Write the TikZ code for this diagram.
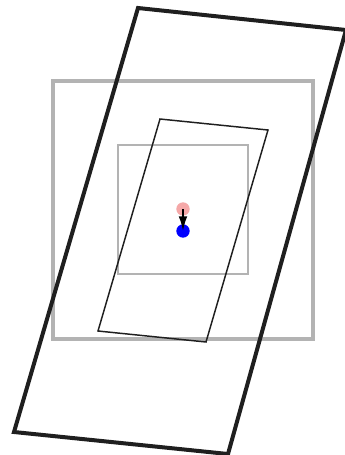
\documentclass[tikz,border=0pt]{standalone}
\usepackage{tikz}
\usetikzlibrary{arrows.meta}
\definecolor{framegray}{HTML}{B3B3B3}
\definecolor{dotpink}{HTML}{F5A8A8}
\tikzset{
	thickframe/.style={draw=black!88, line width=3pt, line join=miter},
	thinframe/.style={draw=black!88, line width=1.1pt},
	dot/.style={circle, inner sep=0pt, minimum size=10pt}
}

\begin{document}
\begin{tikzpicture}[x=0.75pt, y=-0.75pt]
      \useasboundingbox (0,0) rectangle (345,455);

      % gray squares
      \draw[framegray, line width=3pt] (53,81) rectangle (313,339);
      \draw[framegray, line width=1.1pt] (118,145) rectangle (248,274);

      % outer parallelogram
      \draw[thickframe] (138,8) -- (346,30) -- (228,454) -- (14,432) -- cycle;
      % inner parallelogram
      \draw[thinframe] (160,119) -- (268,130) -- (206,342) -- (98,331) -- cycle;

      % dots and arrow
      \node[dot, fill=dotpink] (start) at (183,209) {};
      \node[dot, fill=blue] (end) at (183,231) {};
      \draw[black, line width=1.3pt, -{Latex[length=11pt,width=6.5pt]}] (start.center) -- (end.center);
    \end{tikzpicture}
\end{document}
